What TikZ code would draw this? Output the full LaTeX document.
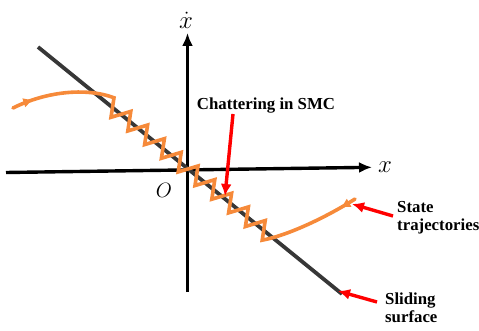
\documentclass[tikz,border=0pt]{standalone}
\usepackage{fontspec}
\setmainfont{Liberation Serif}
\usetikzlibrary{arrows.meta,decorations.markings}
\definecolor{trajorange}{RGB}{246,138,58}
\definecolor{surfgray}{RGB}{55,55,55}
\definecolor{pointred}{RGB}{255,0,0}
\begin{document}
\begin{tikzpicture}[x=1pt,y=-1pt,
  axisline/.style={line width=3.4pt,black,-{Latex[length=13pt,width=11pt]}},
  surfline/.style={line width=3.8pt,surfgray},
  traj/.style={line width=3.6pt,trajorange,line join=miter,line cap=round},
  redarrow/.style={line width=3.4pt,pointred,-{Latex[length=12pt,width=11pt]}},
  lbl/.style={inner sep=0pt,font=\bfseries\fontsize{16.8}{18}\selectfont,align=left},
  mathlbl/.style={inner sep=0pt}]
\useasboundingbox (0,0) rectangle (479,331);
% axes
\coordinate (xl) at (6,172.5);
\coordinate (xr) at (372,167.3);
\coordinate (yb) at (187.5,292);
\coordinate (yt) at (187.5,33);
\draw[axisline] (xl) -- (xr);
\draw[axisline] (yb) -- (yt);
\node[mathlbl] (xlab) at (385,167.5) {\fontsize{28}{28}\selectfont$x$};
\node[mathlbl,anchor=base] (ylab) at (186,28.5) {\fontsize{28}{28}\selectfont$\dot{x}$};
\node[mathlbl,anchor=base] (olab) at (164,197.5) {\fontsize{20}{20}\selectfont$O$};
% sliding surface
\coordinate (s1) at (38,47);
\coordinate (s2) at (342,294);
\draw[surfline] (s1) -- (s2);
% state trajectory with chattering
\coordinate (t0) at (13,108);
\coordinate (t1) at (355,199);
\draw[traj,postaction={decorate},decoration={markings,
    mark=at position 22pt with {\arrow{Latex[length=10pt,width=10pt]}},
    mark=at position -17pt with {\arrowreversed{Latex[length=10pt,width=10pt]}}}]
  (t0) .. controls (45,92) and (85,87) .. ({114},{47+(114-38)*0.8125-11})
  \foreach \k in {0,...,9} {
    -- ({114+16.8*\k-3},{47+(114+16.8*\k-3-38)*0.8125+11})
    \ifnum\k<9 -- ({114+16.8*(\k+1)},{47+(114+16.8*(\k+1)-38)*0.8125-11})\fi
  }
  .. controls (290,235) and (330,215) .. (t1);
% labels and pointers
\node[lbl] (chat) at (266,106) {Chattering in SMC};
\coordinate (chattail) at (233,114);
\coordinate (chattip) at (225,196);
\draw[redarrow] (chattail) -- (chattip);
\node[lbl,anchor=west] (state) at (397,218) {State\\trajectories};
\coordinate (statetail) at (393,216);
\coordinate (statetip) at (352,204);
\draw[redarrow] (statetail) -- (statetip);
\node[lbl,anchor=west] (slide) at (385,308) {Sliding\\surface};
\coordinate (slidetail) at (377,302);
\coordinate (slidetip) at (338,291);
\draw[redarrow] (slidetail) -- (slidetip);
\end{tikzpicture}
\end{document}
